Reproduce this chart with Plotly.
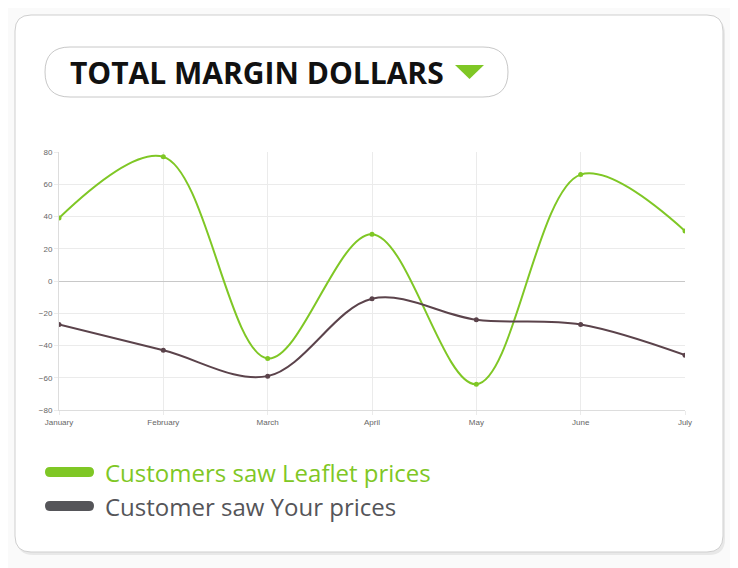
import plotly.graph_objects as go

MONTHS = ["January", "February", "March", "April", "May", "June", "July"]
LEAFLET = [39, 77, -48, 29, -64, 66, 31]
YOURS = [-27, -43, -59, -11, -24, -27, -46]

GREEN = "#7fc725"
BROWN = "#5b434b"
GREY = "#555559"

OFF = 8  # page body margin
W, H = 738 - OFF, 568 - OFF
L, R, T, B = 59 - OFF, 685 - OFF, 152 - OFF, 410 - OFF


def px(x):
    return (x - OFF - L) / (R - L)


def py(y):
    return (B - (y - OFF)) / (B - T)


def rounded(x0, y0, x1, y1, r):
    return (
        f"M {px(x0 + r)},{py(y0)} L {px(x1 - r)},{py(y0)} "
        f"Q {px(x1)},{py(y0)} {px(x1)},{py(y0 + r)} L {px(x1)},{py(y1 - r)} "
        f"Q {px(x1)},{py(y1)} {px(x1 - r)},{py(y1)} L {px(x0 + r)},{py(y1)} "
        f"Q {px(x0)},{py(y1)} {px(x0)},{py(y1 - r)} L {px(x0)},{py(y0 + r)} "
        f"Q {px(x0)},{py(y0)} {px(x0 + r)},{py(y0)} Z"
    )


fig = go.Figure()
fig.add_trace(go.Scatter(
    x=MONTHS, y=LEAFLET, mode="lines+markers", name="Customers saw Leaflet prices",
    line=dict(color=GREEN, width=2, shape="spline", smoothing=1),
    marker=dict(size=5, color=GREEN),
))
fig.add_trace(go.Scatter(
    x=MONTHS, y=YOURS, mode="lines+markers", name="Customer saw Your prices",
    line=dict(color=BROWN, width=2, shape="spline", smoothing=1),
    marker=dict(size=5, color=BROWN),
))

shapes = [
    # card shadow + card
    dict(type="path", path=rounded(17, 18, 725, 555, 16), fillcolor="rgba(0,0,0,0.07)", line=dict(width=0), layer="below"),
    dict(type="path", path=rounded(15, 15, 723, 552, 16), fillcolor="white", line=dict(color="#cfcfcf", width=1), layer="below"),
    # title pill
    dict(type="path", path=rounded(45, 47, 508, 97, 25), fillcolor="white", line=dict(color="#c8c8c8", width=1), layer="below"),
    dict(type="path", path=f"M {px(455)},{py(65)} L {px(484)},{py(65)} L {px(469.5)},{py(79)} Z",
         fillcolor=GREEN, line=dict(width=0)),
    # legend swatches
    dict(type="path", path=rounded(45, 467, 94, 477, 5), fillcolor=GREEN, line=dict(width=0)),
    dict(type="path", path=rounded(45, 501, 94, 511, 5), fillcolor=GREY, line=dict(width=0)),
]
for s in shapes:
    s.update(xref="paper", yref="paper")

annotations = [
    dict(text="<b>TOTAL MARGIN DOLLARS</b>", x=px(68), y=py(73), xanchor="left", yanchor="middle",
         font=dict(size=30, color="#111111", family="Open Sans, Arial, sans-serif")),
    dict(text="Customers saw Leaflet prices", x=px(103), y=py(472), xanchor="left", yanchor="middle",
         font=dict(size=24, color=GREEN, family="Open Sans, Arial, sans-serif")),
    dict(text="Customer saw Your prices", x=px(103), y=py(506), xanchor="left", yanchor="middle",
         font=dict(size=24, color=GREY, family="Open Sans, Arial, sans-serif")),
]
for a in annotations:
    a.update(xref="paper", yref="paper", showarrow=False)

fig.update_layout(
    width=W, height=H,
    margin=dict(l=L, r=W - R, t=T, b=H - B),
    paper_bgcolor="#fafafa", plot_bgcolor="rgba(0,0,0,0)",
    showlegend=False, shapes=shapes, annotations=annotations,
    font=dict(family="Liberation Sans, Arial, sans-serif", size=8, color="#666666"),
)
fig.update_xaxes(showgrid=True, gridcolor="#ebebeb", showline=True, linecolor="#dddddd",
                 ticks="outside", ticklen=4, tickcolor="#ebebeb", range=[0, 6], fixedrange=True)
fig.update_yaxes(range=[-80, 80], dtick=20, showgrid=True, gridcolor="#ebebeb",
                 zeroline=True, zerolinecolor="#c8c8c8", zerolinewidth=1,
                 showline=True, linecolor="#dddddd", ticks="outside", ticklen=4, tickcolor="#ebebeb")

fig.write_html("out.html")
